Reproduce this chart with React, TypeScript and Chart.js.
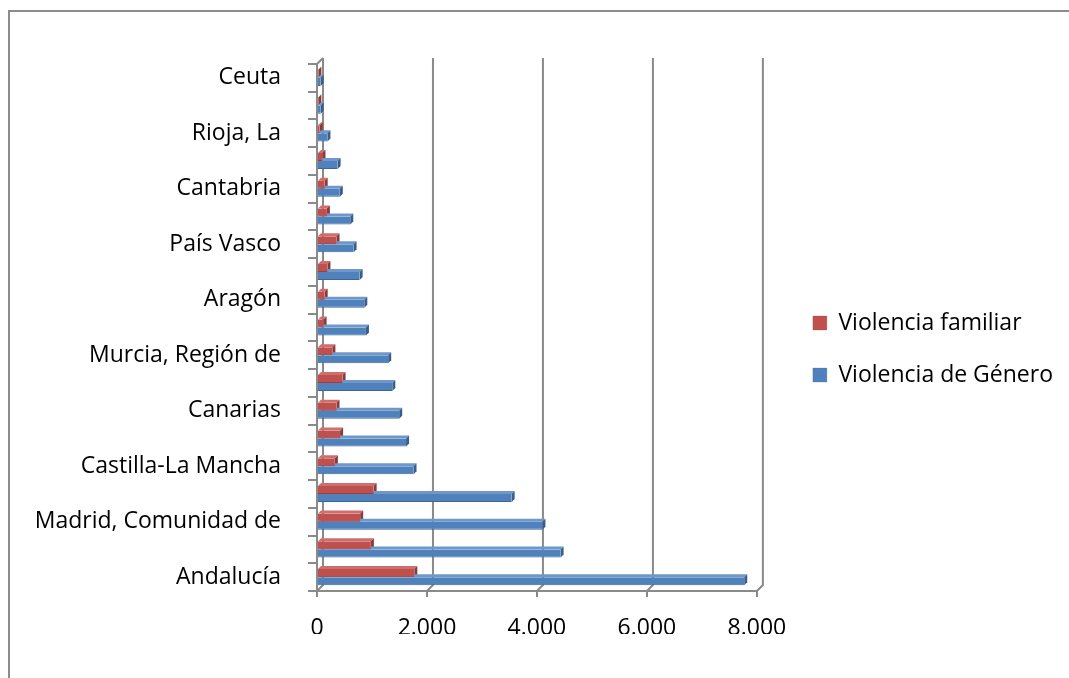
import React, { useEffect, useRef } from "react";
import { Chart, registerables } from "chart.js";

Chart.register(...registerables);

// Regions listed from the bottom of the chart to the top
const regions = [
  "Andalucía",
  "Cataluña",
  "Madrid, Comunidad de",
  "Comunitat Valenciana",
  "Castilla-La Mancha",
  "Galicia",
  "Canarias",
  "Castilla y León",
  "Murcia, Región de",
  "Balears, Illes",
  "Aragón",
  "Extremadura",
  "País Vasco",
  "Asturias, Principado de",
  "Cantabria",
  "Navarra, Comunidad Foral de",
  "Rioja, La",
  "Melilla",
  "Ceuta",
];

const violenciaFamiliar = [
  1770, 980, 785, 1030, 325, 420, 355, 465, 280, 120, 140, 190, 355, 180, 140, 100, 50, 25, 25,
];

const violenciaGenero = [
  7770, 4430, 4100, 3540, 1755, 1620, 1495, 1370, 1295, 890, 860, 775, 665, 605, 415, 375, 190, 65, 65,
];

const seriesNames = ["Violencia familiar", "Violencia de Género"];

const axisMax = 8000;
const axisStep = 2000;

const FONT = "'Open Sans', 'Noto Sans', sans-serif";
const LINE = "#8a8a8a";

const palette = [
  { face: "#C0504D", top: "#CD6F6C", side: "#8C3A38", edge: "#9E3F3C" },
  { face: "#4F81BD", top: "#6F97C9", side: "#375E8C", edge: "#3D6696" },
];

// thousands separator with a dot: 2000 -> 2.000
const fmt = (v: number) => String(v).replace(/\B(?=(\d{3})+(?!\d))/g, ".");

const WALL = 6; // depth of the back wall
const BAR_DEPTH = 3; // depth of each bar

const depthPlugin = {
  id: "depth3d",
  beforeDatasetsDraw(chart: any) {
    const { ctx, chartArea: a } = chart;
    const xs = chart.scales.x;
    ctx.save();
    ctx.strokeStyle = LINE;
    ctx.lineWidth = 2;
    ctx.lineJoin = "miter";
    // back wall gridlines with their floor edges
    xs.ticks.forEach((t: any) => {
      const px = xs.getPixelForValue(t.value);
      ctx.beginPath();
      ctx.moveTo(px, a.bottom);
      ctx.lineTo(px + WALL, a.bottom - WALL);
      ctx.lineTo(px + WALL, a.top - WALL);
      ctx.stroke();
    });
    // top edge of the side wall
    ctx.beginPath();
    ctx.moveTo(a.left, a.top);
    ctx.lineTo(a.left + WALL, a.top - WALL);
    ctx.stroke();

    // top and end faces of every bar, drawn under the front faces
    chart.data.datasets.forEach((_ds: any, i: number) => {
      const meta = chart.getDatasetMeta(i);
      const col = palette[i];
      meta.data.forEach((el: any) => {
        const { x, y, base, height } = el.getProps(["x", "y", "base", "height"], true);
        const top = y - height / 2;
        const bottom = y + height / 2;
        const d = BAR_DEPTH;
        ctx.fillStyle = col.top;
        ctx.beginPath();
        ctx.moveTo(base, top);
        ctx.lineTo(base + d, top - d);
        ctx.lineTo(x + d, top - d);
        ctx.lineTo(x, top);
        ctx.closePath();
        ctx.fill();
        ctx.fillStyle = col.side;
        ctx.beginPath();
        ctx.moveTo(x, top);
        ctx.lineTo(x + d, top - d);
        ctx.lineTo(x + d, bottom - d);
        ctx.lineTo(x, bottom);
        ctx.closePath();
        ctx.fill();
      });
    });
    ctx.restore();
  },
};

export default function App() {
  const ref = useRef<HTMLCanvasElement | null>(null);

  useEffect(() => {
    document.body.style.margin = "0";
    const canvas = ref.current;
    if (!canvas) return;

    const chart = new Chart(canvas, {
      type: "bar",
      data: {
        labels: regions,
        datasets: [
          {
            label: seriesNames[0],
            data: violenciaFamiliar,
            backgroundColor: palette[0].face,
            borderColor: palette[0].edge,
            borderWidth: { top: 0, right: 0, bottom: 1, left: 0 },
            borderSkipped: false,
            categoryPercentage: 0.58,
            barPercentage: 1,
          },
          {
            label: seriesNames[1],
            data: violenciaGenero,
            backgroundColor: palette[1].face,
            borderColor: palette[1].edge,
            borderWidth: { top: 0, right: 0, bottom: 1, left: 0 },
            borderSkipped: false,
            categoryPercentage: 0.58,
            barPercentage: 1,
          },
        ],
      },
      options: {
        indexAxis: "y",
        responsive: false,
        animation: false,
        layout: { padding: { top: 64, left: 0, right: 6, bottom: 44 } },
        plugins: {
          legend: {
            position: "right",
            align: "center",
            maxWidth: 400,
            labels: {
              boxWidth: 14,
              boxHeight: 14,
              padding: 29,
              color: "#000",
              font: { family: FONT, size: 23 },
            },
          },
          tooltip: { enabled: false },
        },
        scales: {
          x: {
            type: "linear",
            min: 0,
            max: axisMax,
            ticks: {
              stepSize: axisStep,
              color: "#000",
              padding: 18,
              font: { family: FONT, size: 23 },
              callback: (v: any) => fmt(Number(v)),
            },
            grid: {
              display: true,
              drawOnChartArea: false,
              drawTicks: true,
              tickLength: 6,
              color: LINE,
              lineWidth: 2,
            },
            border: { display: true, color: LINE, width: 2 },
            afterFit: (s: any) => {
              s.height = 43;
            },
          },
          y: {
            type: "category",
            reverse: true,
            ticks: {
              autoSkip: false,
              color: "#000",
              padding: 27,
              font: { family: FONT, size: 23 },
              callback: (_v: any, i: number) => (i % 2 === 0 ? regions[i] : ""),
            },
            grid: {
              display: true,
              offset: true,
              drawOnChartArea: false,
              drawTicks: true,
              tickLength: 9,
              color: LINE,
              lineWidth: 2,
            },
            border: { display: true, color: LINE, width: 2 },
            afterFit: (s: any) => {
              s.width = 317;
            },
          },
          // blank gap between the plot and the legend
          gap: {
            type: "category",
            axis: "y",
            position: "right",
            display: true,
            grid: { display: false },
            border: { display: false },
            ticks: { display: false },
            afterFit: (s: any) => {
              s.width = 27;
            },
          },
        },
      },
      plugins: [depthPlugin],
    } as any);

    return () => chart.destroy();
  }, []);

  return (
    <div style={{ position: "relative", width: 1069, height: 678, overflow: "hidden", background: "#fff" }}>
      <div
        style={{
          position: "absolute",
          left: 8,
          top: 10,
          width: 1200,
          height: 800,
          borderLeft: "2px solid #8c8c8c",
          borderTop: "2px solid #8c8c8c",
        }}
      />
      <canvas ref={ref} width={1069} height={678} style={{ position: "absolute", left: 0, top: 0 }} />
    </div>
  );
}
